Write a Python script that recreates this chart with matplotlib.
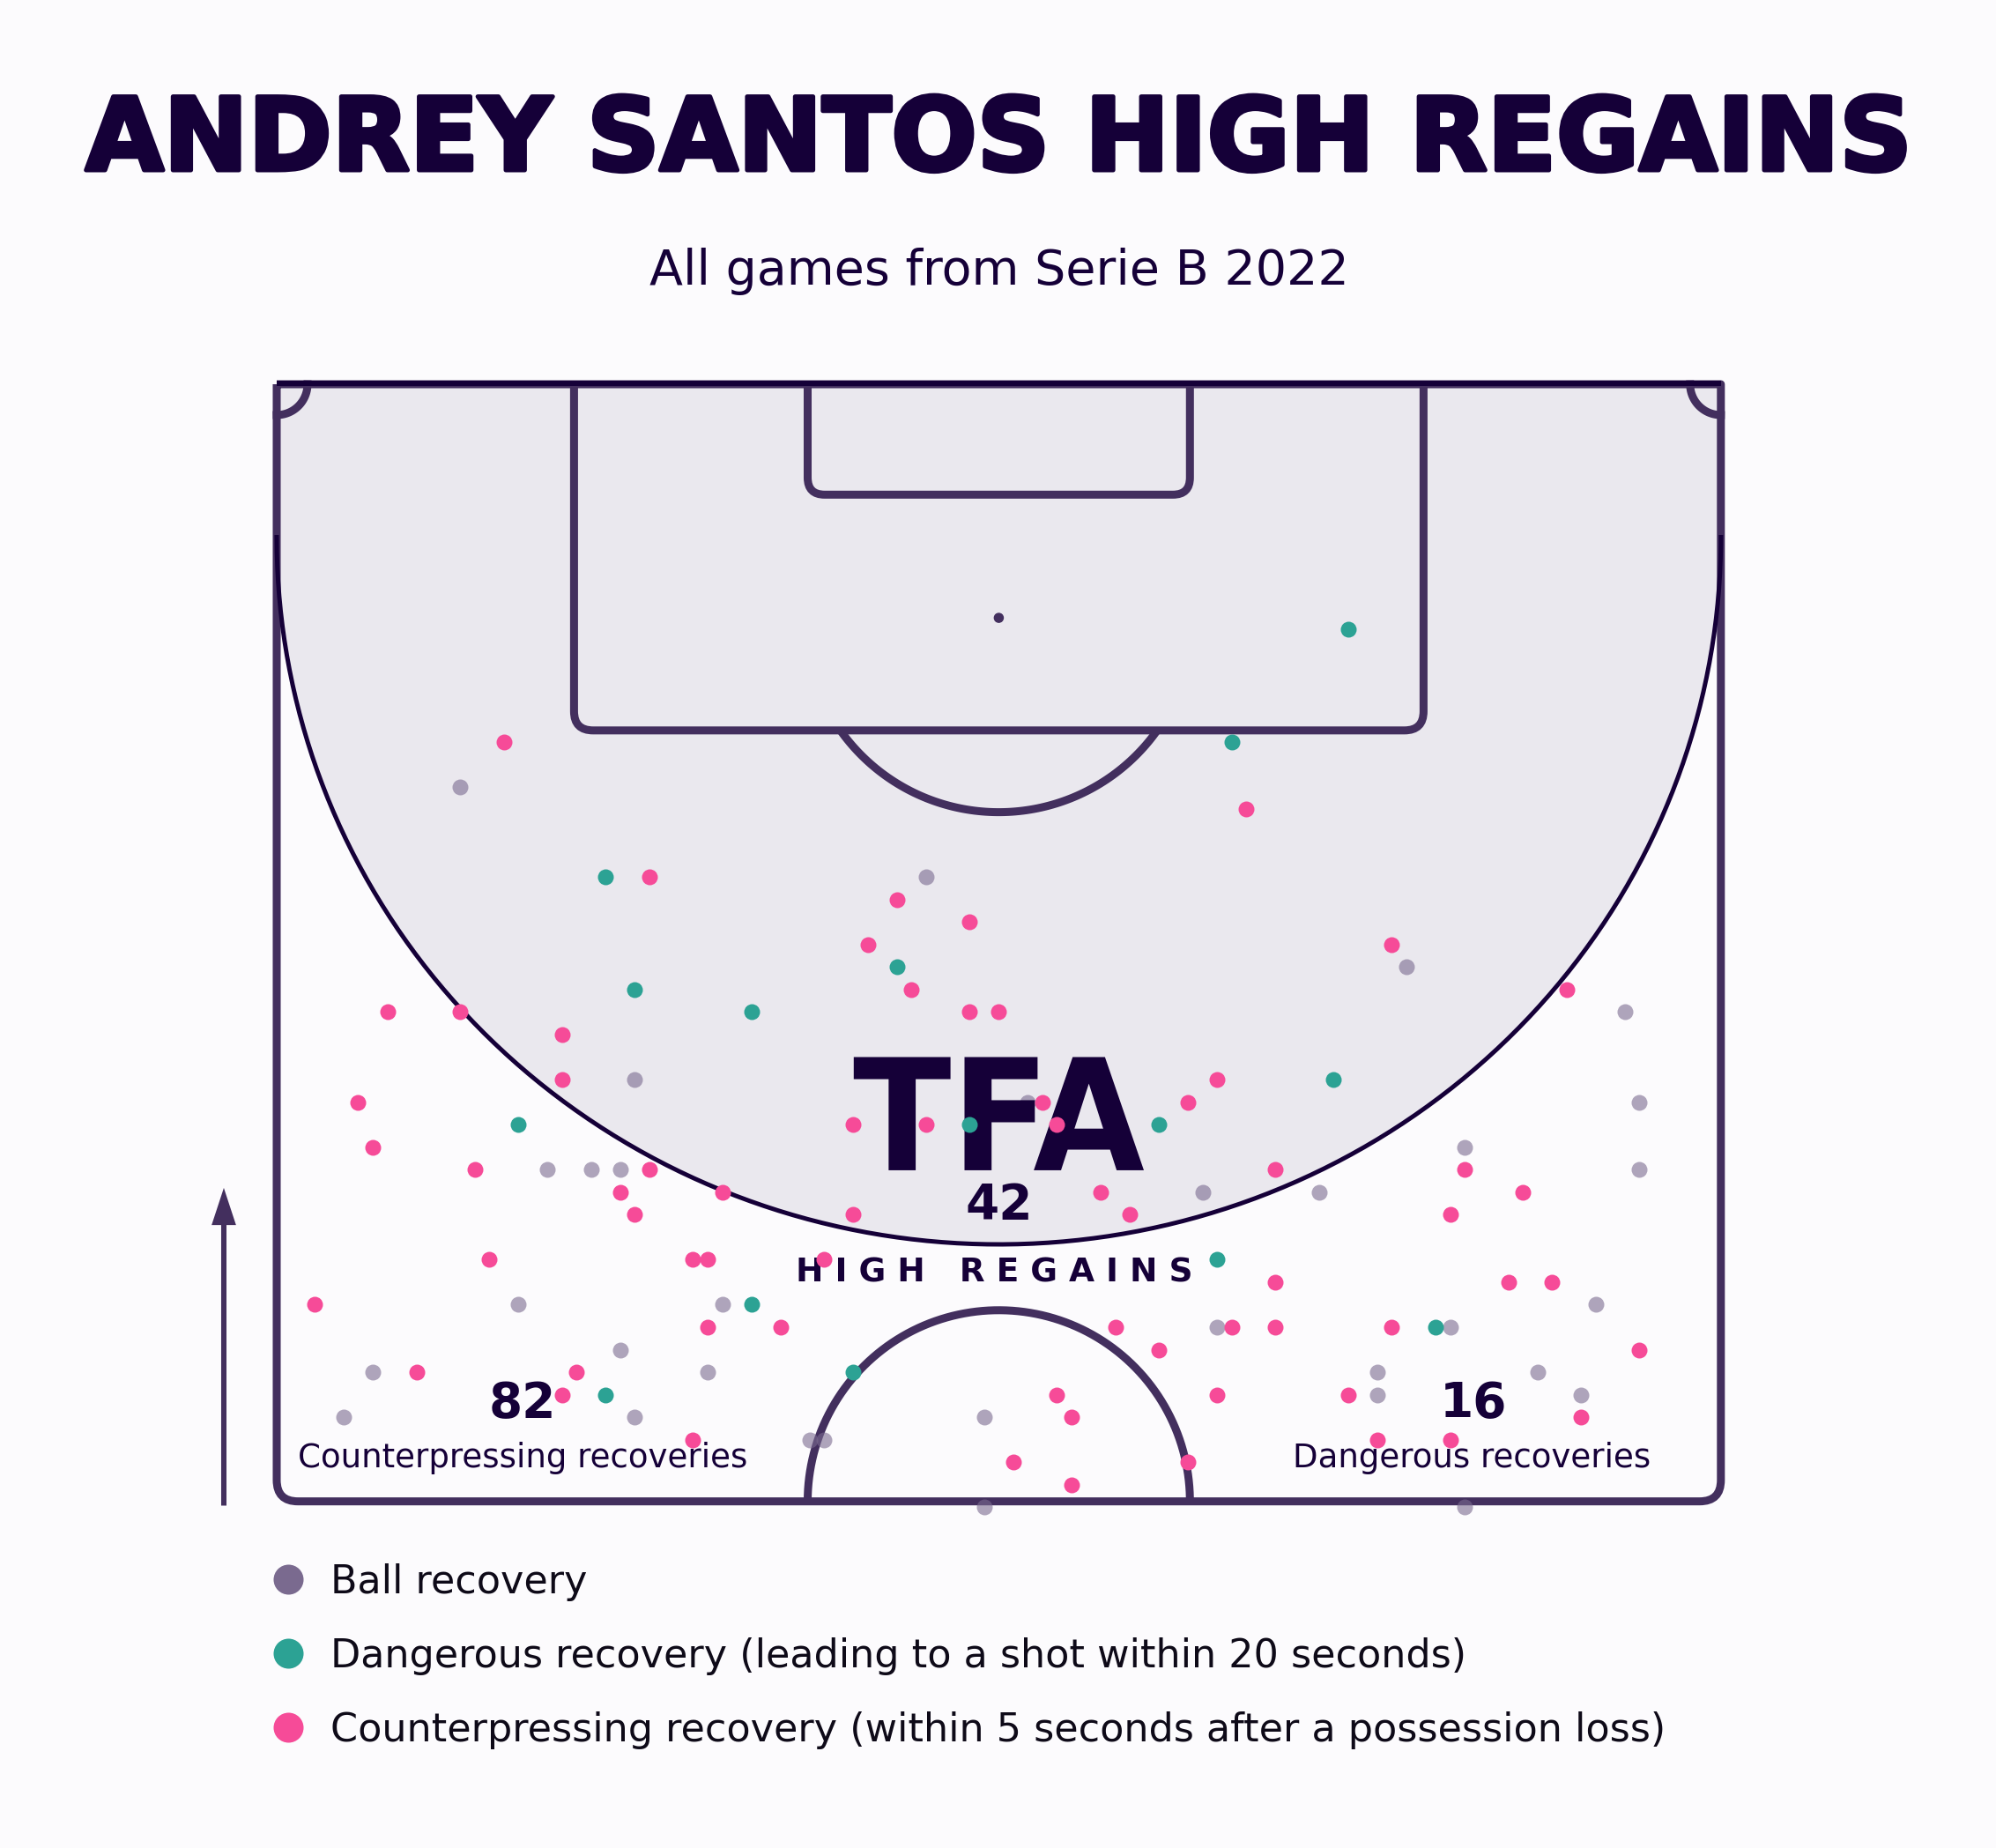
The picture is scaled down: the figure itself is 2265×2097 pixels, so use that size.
import numpy as np
import matplotlib
matplotlib.use("Agg")
import matplotlib.pyplot as plt
import matplotlib.patheffects as pe
from matplotlib.path import Path
from matplotlib.patches import PathPatch, Circle, FancyArrow
from matplotlib.textpath import TextPath
from matplotlib.font_manager import FontProperties
from matplotlib.transforms import Affine2D

# recoveries in 0-100 pitch units (x = towards opponent goal, y = across)
ball_x = [82, 78, 74, 72, 69, 68, 68, 66, 65, 65, 65, 65, 64, 64, 59, 59, 59,
          58, 58, 57, 56, 56, 56, 56, 55, 55, 54, 54, 54, 53, 53, 50, 50]
ball_y = [13, 45, 78, 93, 25, 52, 94, 82, 19, 22, 24, 94, 64, 72, 17, 31, 91,
          65, 81, 24, 7, 30, 76, 87, 76, 90, 5, 25, 49, 37, 38, 49, 82]

danger_x = [89, 84, 78, 74, 73, 72, 69, 67, 67, 67, 61, 59, 58, 56, 55]
danger_y = [74, 66, 23, 43, 25, 33, 73, 17, 48, 61, 65, 33, 80, 40, 23]

counter_x = [84, 81, 78, 77, 76, 75, 75, 73, 73, 72, 72, 72, 72, 71, 69, 69,
             68, 68, 68, 67, 67, 67, 66, 65, 65, 65, 65, 64, 64, 64, 64, 63,
             63, 63, 63, 61, 61, 61, 61, 60, 60, 60, 59, 58, 58, 58, 58, 58,
             58, 57, 57, 56, 56, 55, 55, 55, 55, 54, 54, 53, 53, 53, 52, 52, 51]
counter_y = [16, 67, 26, 43, 48, 41, 77, 44, 89, 8, 13, 48, 50, 20, 20, 65,
             6, 53, 63, 40, 45, 54, 7, 14, 26, 69, 82, 24, 31, 57, 86, 25,
             40, 59, 81, 15, 29, 30, 38, 69, 85, 88, 3, 30, 35, 58, 66, 69,
             77, 61, 94, 10, 21, 20, 54, 65, 74, 55, 90, 29, 76, 81, 51, 63, 55]

title = "ANDREY SANTOS HIGH REGAINS"
subtitle = "All games from Serie B 2022"
high_regains = "42"
counterpressing_total = "82"
dangerous_total = "16"
legend_labels = ["Ball recovery",
                 "Dangerous recovery (leading to a shot within 20 seconds)",
                 "Counterpressing recovery (within 5 seconds after a possession loss)"]

BG = "#FCFBFD"
ZONE = "#EAE8EE"
LINE = "#432F5E"
DARK = "#150038"
GREY = "#7A6A8F"
TEAL = "#2CA294"
PINK = "#F64B98"

WIDTH = 68.0
HALF = 52.6
PX = 24.1  # pixels per metre


def to_pitch(x, y):
    x = np.asarray(x, dtype=float)
    y = np.asarray(y, dtype=float)
    return 34 + (y - 50) * 0.6855, (100 - x) * 1.06 - 0.12


def rounded_line(points, r, corners):
    verts = [points[0]]
    codes = [Path.MOVETO]
    for i in range(1, len(points) - 1):
        p = np.array(points[i], dtype=float)
        if i in corners:
            a = np.array(points[i - 1], dtype=float) - p
            b = np.array(points[i + 1], dtype=float) - p
            verts += [p + r * a / np.hypot(*a), p, p + r * b / np.hypot(*b)]
            codes += [Path.LINETO, Path.CURVE3, Path.CURVE3]
        else:
            verts.append(p)
            codes.append(Path.LINETO)
    verts.append(points[-1])
    codes.append(Path.LINETO)
    return Path(verts, codes)


def draw_pitch(ax):
    lw = 6.5
    # high regain zone
    c, b = 7.2, 33.3
    t = np.linspace(np.pi, 0, 300)
    zx = 34 + 34 * np.cos(t)
    zy = c + b * np.sin(t)
    ax.fill(np.r_[0, zx, WIDTH], np.r_[0, zy, 0], color=ZONE, lw=0, zorder=1)

    outer = [(0, 0), (0, HALF), (WIDTH, HALF), (WIDTH, 0), (0, 0)]
    boxes = [
        rounded_line(outer, 1.0, [1, 2]),
        rounded_line([(14, 0), (14, 16.3), (54, 16.3), (54, 0)], 0.9, [1, 2]),
        rounded_line([(25, 0), (25, 5.2), (43, 5.2), (43, 0)], 0.8, [1, 2]),
    ]
    for path in boxes:
        ax.add_patch(PathPatch(path, fill=False, ec=LINE, lw=lw,
                               joinstyle="round", capstyle="butt", zorder=2))

    # penalty arc and spot
    r = 9.15
    a0 = np.arcsin((16.3 - 11) / r)
    t = np.linspace(a0, np.pi - a0, 100)
    ax.plot(34 + r * np.cos(t), 11 + r * np.sin(t), color=LINE, lw=lw, zorder=2,
            solid_capstyle="butt")
    ax.add_patch(Circle((34, 11), 0.21, color=LINE, zorder=2))

    # centre circle
    t = np.linspace(np.pi, 2 * np.pi, 200)
    ax.plot(34 + 9.0 * np.cos(t), HALF + 9.0 * np.sin(t), color=LINE, lw=lw,
            zorder=2, solid_capstyle="butt")

    # corner arcs
    t = np.linspace(0, np.pi / 2, 50)
    ax.plot(1.45 * np.cos(t), 1.45 * np.sin(t), color=LINE, lw=lw, zorder=2)
    ax.plot(WIDTH - 1.45 * np.cos(t), 1.45 * np.sin(t), color=LINE, lw=lw, zorder=2)

    # zone outline
    ax.plot(zx, zy, color=DARK, lw=3.6, zorder=3)
    ax.plot([0, WIDTH], [-0.05, -0.05], color=DARK, lw=4.3, zorder=3,
            solid_capstyle="butt")


def draw_logo(ax, x0, x1, y0, y1):
    tp = TextPath((0, 0), "TFA", size=1,
                  prop=FontProperties(family="DejaVu Sans", weight="bold"))
    bb = tp.get_extents()
    tr = (Affine2D().translate(-bb.x0, -bb.y0)
          .scale((x1 - x0) / bb.width, -(y1 - y0) / bb.height)
          .translate(x0, y1))
    ax.add_patch(PathPatch(tr.transform_path(tp), color=DARK, lw=0, zorder=5))


fig = plt.figure(figsize=(22.65, 20.97), dpi=100, facecolor=BG)
ax = fig.add_axes([0, 0, 1, 1])
ax.set_facecolor(BG)
ax.set_xlim(-314 / PX, (2265 - 314) / PX)
ax.set_ylim((2097 - 436) / PX, -436 / PX)
ax.axis("off")

draw_pitch(ax)

gx, gy = to_pitch(ball_x, ball_y)
ax.scatter(gx, gy, s=168, color=GREY, alpha=0.6, lw=0, zorder=4)

draw_logo(ax, 27.17, 40.83, 31.68, 37.01)

dx, dy = to_pitch(danger_x, danger_y)
ax.scatter(dx, dy, s=168, color=TEAL, lw=0, zorder=6)
cx, cy = to_pitch(counter_x, counter_y)
ax.scatter(cx, cy, s=168, color=PINK, lw=0, zorder=7)

# direction of play
ax.add_patch(FancyArrow(-2.49, 52.8, 0, -14.96, width=0.25, head_width=1.15,
                        head_length=1.75, length_includes_head=True,
                        color=LINE, lw=0, zorder=2))

ax.text(34, -10.08, title, ha="center", va="baseline", fontsize=82.5,
        fontweight="bold", color=DARK, family="DejaVu Sans",
        path_effects=[pe.withStroke(linewidth=3.5, foreground=DARK)])
ax.text(34, -4.68, subtitle, ha="center", va="baseline", fontsize=40,
        color=DARK, family="DejaVu Sans")

ax.text(34.02, 39.28, high_regains, ha="center", va="baseline", fontsize=39.5,
        fontweight="bold", color=DARK, zorder=5)
ax.text(33.8, 42.28, "H I G H   R E G A I N S", ha="center", va="baseline",
        fontsize=27, fontweight="bold", color=DARK, zorder=5)

ax.text(11.58, 48.63, counterpressing_total, ha="center", va="baseline",
        fontsize=39.5, fontweight="bold", color=DARK, zorder=5)
ax.text(11.58, 51.0, "Counterpressing recoveries", ha="center", va="baseline",
        fontsize=26.7, color=DARK, zorder=5)
ax.text(56.33, 48.63, dangerous_total, ha="center", va="baseline",
        fontsize=39.5, fontweight="bold", color=DARK, zorder=5)
ax.text(56.27, 51.0, "Dangerous recoveries", ha="center", va="baseline",
        fontsize=26.7, color=DARK, zorder=5)

legend_colors = [GREY, TEAL, PINK]
legend_base = [56.94, 60.42, 63.89]
for label, col, yb in zip(legend_labels, legend_colors, legend_base):
    ax.scatter([0.56], [yb - 0.66], s=600, color=col, lw=0)
    ax.text(2.52, yb, label, ha="left", va="baseline", fontsize=32, color="#0E0A18")

fig.savefig("out.png", dpi=100, facecolor=BG)
